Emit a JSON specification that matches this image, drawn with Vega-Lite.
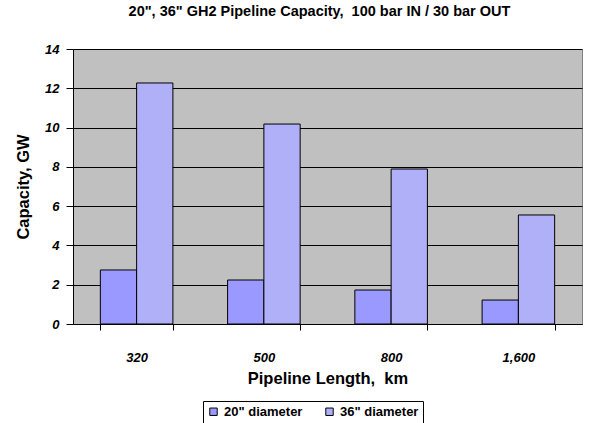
{
  "$schema": "https://vega.github.io/schema/vega-lite/v6.json",
  "autosize": "none",
  "width": 509,
  "height": 275,
  "padding": {"left": 73, "top": 49, "right": 18, "bottom": 99},
  "background": "white",
  "title": {
    "text": "20\", 36\" GH2 Pipeline Capacity,\u00a0 100 bar IN / 30 bar OUT",
    "font": "Liberation Sans",
    "fontSize": 14.5,
    "fontWeight": "bold",
    "color": "black",
    "anchor": "middle",
    "dx": -8,
    "offset": 24
  },
  "config": {
    "view": {"fill": "#C0C0C0", "stroke": "#808080", "strokeWidth": 1},
    "font": "Liberation Sans"
  },
  "data": {
    "values": [
      {"length": "320", "diameter": "20\" diameter", "capacity": 2.75},
      {"length": "320", "diameter": "36\" diameter", "capacity": 12.27},
      {"length": "500", "diameter": "20\" diameter", "capacity": 2.24},
      {"length": "500", "diameter": "36\" diameter", "capacity": 10.18},
      {"length": "800", "diameter": "20\" diameter", "capacity": 1.73},
      {"length": "800", "diameter": "36\" diameter", "capacity": 7.89},
      {"length": "1,600", "diameter": "20\" diameter", "capacity": 1.22},
      {"length": "1,600", "diameter": "36\" diameter", "capacity": 5.55}
    ]
  },
  "mark": {"type": "bar", "stroke": "black", "strokeWidth": 1},
  "encoding": {
    "x": {
      "field": "length",
      "type": "nominal",
      "sort": ["320", "500", "800", "1,600"],
      "scale": {"paddingInner": 0.43, "paddingOuter": 0.215},
      "axis": {
        "title": "Pipeline Length,\u00a0 km",
        "titleFont": "Liberation Sans",
        "titleFontSize": 16.5,
        "titleFontWeight": "bold",
        "titleColor": "black",
        "titlePadding": 6,
        "labelAngle": 0,
        "labelFont": "Liberation Sans",
        "labelFontSize": 13,
        "labelFontWeight": "bold",
        "labelFontStyle": "italic",
        "labelColor": "black",
        "labelPadding": 21,
        "tickBand": "extent",
        "tickSize": 6,
        "tickColor": "black",
        "domainColor": "black",
        "grid": false
      }
    },
    "xOffset": {"field": "diameter", "type": "nominal"},
    "y": {
      "field": "capacity",
      "type": "quantitative",
      "scale": {"domain": [0, 14], "nice": false},
      "axis": {
        "title": "Capacity, GW",
        "titleFont": "Liberation Sans",
        "titleFontSize": 16.5,
        "titleFontWeight": "bold",
        "titleColor": "black",
        "titlePadding": 13,
        "values": [0, 2, 4, 6, 8, 10, 12, 14],
        "labelFont": "Liberation Sans",
        "labelFontSize": 13,
        "labelFontWeight": "bold",
        "labelFontStyle": "italic",
        "labelColor": "black",
        "labelPadding": 7,
        "tickSize": 7,
        "tickColor": "black",
        "domainColor": "black",
        "grid": true,
        "gridColor": "black",
        "gridOpacity": 1,
        "gridWidth": 1
      }
    },
    "fill": {
      "field": "diameter",
      "type": "nominal",
      "scale": {"range": ["#9999FF", "#B0B0F8"]},
      "legend": {
        "title": null,
        "orient": "none",
        "legendX": 130,
        "legendY": 352,
        "direction": "horizontal",
        "symbolType": "square",
        "symbolSize": 55,
        "symbolStrokeColor": "black",
        "symbolStrokeWidth": 1,
        "labelFont": "Liberation Sans",
        "labelFontSize": 13,
        "labelFontWeight": "bold",
        "labelColor": "black",
        "columnPadding": 20,
        "strokeColor": "black",
        "fillColor": "white",
        "padding": 4
      }
    }
  }
}
